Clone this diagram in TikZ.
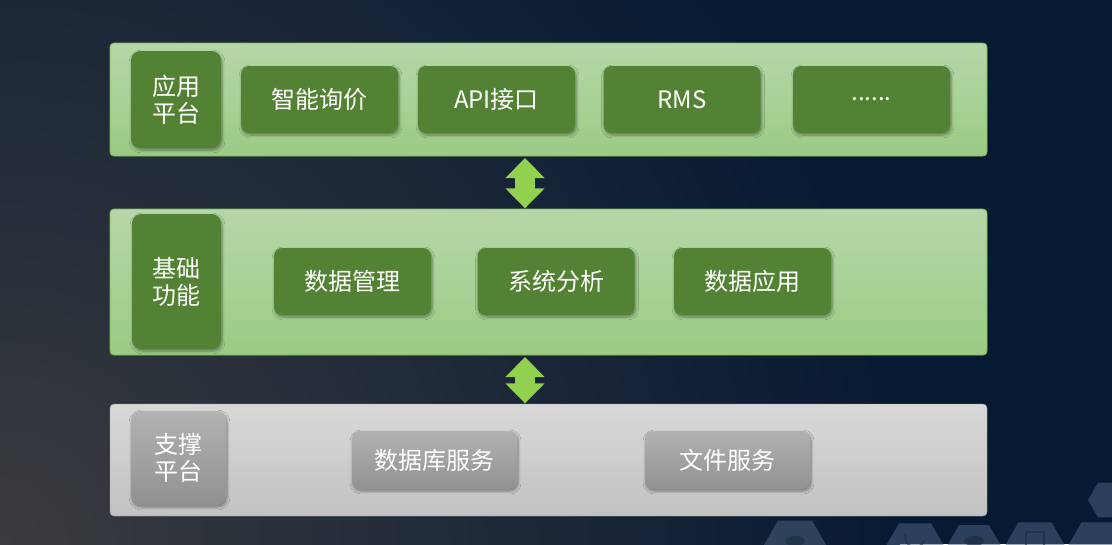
\documentclass[tikz,border=0pt]{standalone}
\usepackage{fontspec}
\setmainfont{Noto Sans CJK SC}
\usepackage{xcolor}
\usepackage{tikz}
\usetikzlibrary{arrows.meta,shadows.blur}
\definecolor{bgnavy}{HTML}{071A33}
\definecolor{bggray}{HTML}{3A3B3E}
\definecolor{bandtop}{HTML}{B6D7A8}
\definecolor{bandbot}{HTML}{9CCB85}
\definecolor{bandline}{HTML}{7DC052}
\definecolor{leaf}{HTML}{548235}
\definecolor{lime}{HTML}{92D050}
\definecolor{greytop}{HTML}{D8D8D8}
\definecolor{greybot}{HTML}{C2C2C2}
\definecolor{chiptop}{HTML}{B2B2B2}
\definecolor{chipbot}{HTML}{919191}
\definecolor{hexfill}{HTML}{4A617E}
\definecolor{hexicon}{HTML}{1C2A3E}
\newcommand{\lf}{\fontsize{18}{20.25}\selectfont}
\newcommand{\hexa}[2]{% #1 = centre, #2 = radius
  \fill[hexfill, opacity=0.55] #1 ++(0:#2) -- ++(120:#2) -- ++(180:#2) -- ++(240:#2) -- ++(300:#2) -- ++(0:#2) -- cycle;}

\begin{document}
\begin{tikzpicture}[x=0.75pt, y={(0pt,-0.75pt)},
  every node/.style={inner sep=0pt, outer sep=0pt, font=\lf, text=white, align=center},
  band/.style={draw=bandline, line width=0.6pt, rounded corners=3pt, top color=bandtop, bottom color=bandbot, minimum width=657.75pt},
  greyband/.style={draw=greybot!85!black, line width=0.3pt, rounded corners=3pt, top color=greytop, bottom color=greybot, minimum width=657.75pt},
  tag/.style={fill=leaf, rounded corners=7pt, blur shadow={shadow xshift=0.8pt, shadow yshift=-1.5pt, shadow blur steps=6, shadow opacity=40}},
  cell/.style={fill=leaf, rounded corners=6pt, minimum width=117.75pt, minimum height=50.25pt, blur shadow={shadow xshift=0.8pt, shadow yshift=-1.5pt, shadow blur steps=6, shadow opacity=40}},
  greytag/.style={top color=chiptop, bottom color=chipbot, rounded corners=7pt, blur shadow={shadow xshift=0.8pt, shadow yshift=-1.5pt, shadow blur steps=6, shadow opacity=40}},
  greycell/.style={top color=chiptop, bottom color=chipbot, rounded corners=6pt, minimum width=123.75pt, minimum height=43.5pt, blur shadow={shadow xshift=0.8pt, shadow yshift=-1.5pt, shadow blur steps=6, shadow opacity=40}},
  link/.style={lime, line width=15pt, {Triangle[width=28.5pt, length=15pt]}-{Triangle[width=28.5pt, length=15pt]}, shorten <=1.5pt, shorten >=0.5pt}]
\useasboundingbox (0,0) rectangle (1112,544);
% ---- background
\fill[bgnavy] (0,0) rectangle (1112,544);
\begin{scope}
\clip (0,0) rectangle (1112,544);
\shade[inner color=bggray, outer color=bgnavy] (0,544) circle (900);
\end{scope}
\hexa{(795,550)}{34}
\hexa{(915,551)}{32}
\hexa{(974,551)}{30}
\hexa{(1035,551)}{33}
\hexa{(1098,551)}{33}
\hexa{(1108,500)}{20}
\fill[hexicon, opacity=0.6] (795,541) ellipse (10 and 5);
\draw[hexicon, opacity=0.6, line width=1.3pt] (915,537) ++(200:10) arc (200:20:10);
\fill[hexicon, opacity=0.6] (974,541) ellipse (10 and 5);
\draw[hexicon, opacity=0.6, line width=1pt] (1026,532) rectangle (1044,548);
% ================= layer 1: application platform
\node[band, minimum height=84.75pt] (app) at (548.5,99.5) {};
\node[tag, minimum width=67.5pt, minimum height=72.75pt] (apptag) at (176,99.5) {应用\\平台};
\node[cell] (quote) at (319.5,99.5) {智能询价};
\node[cell] (api) at (496.5,99.5) {API接口};
\node[cell] (rms) at (682,99.5) {RMS};
\node[cell] (more) at (871.5,99.5) {......};
% ================= layer 2: base functions
\node[band, minimum height=109.5pt] (base) at (548.5,282) {};
\node[tag, minimum width=66.75pt, minimum height=101.25pt] (basetag) at (176.5,281.5) {基础\\功能};
\node[cell] (dm) at (352.5,281.5) {数据管理};
\node[cell] (sa) at (556,281.5) {系统分析};
\node[cell] (da) at (752.5,281.5) {数据应用};
% ================= layer 3: support platform
\node[greyband, minimum height=84pt] (sup) at (548.5,460) {};
\node[greytag, minimum width=71.25pt, minimum height=70.5pt] (suptag) at (178.5,458) {支撑\\平台};
\node[greycell] (db) at (434.5,460) {数据库服务};
\node[greycell] (fs) at (727.5,460) {文件服务};
% ---- links between layers
\coordinate (axis) at (525,0);
\draw[link] (app.south -| axis) -- (base.north -| axis);
\draw[link] (base.south -| axis) -- (sup.north -| axis);
\end{tikzpicture}
\end{document}
